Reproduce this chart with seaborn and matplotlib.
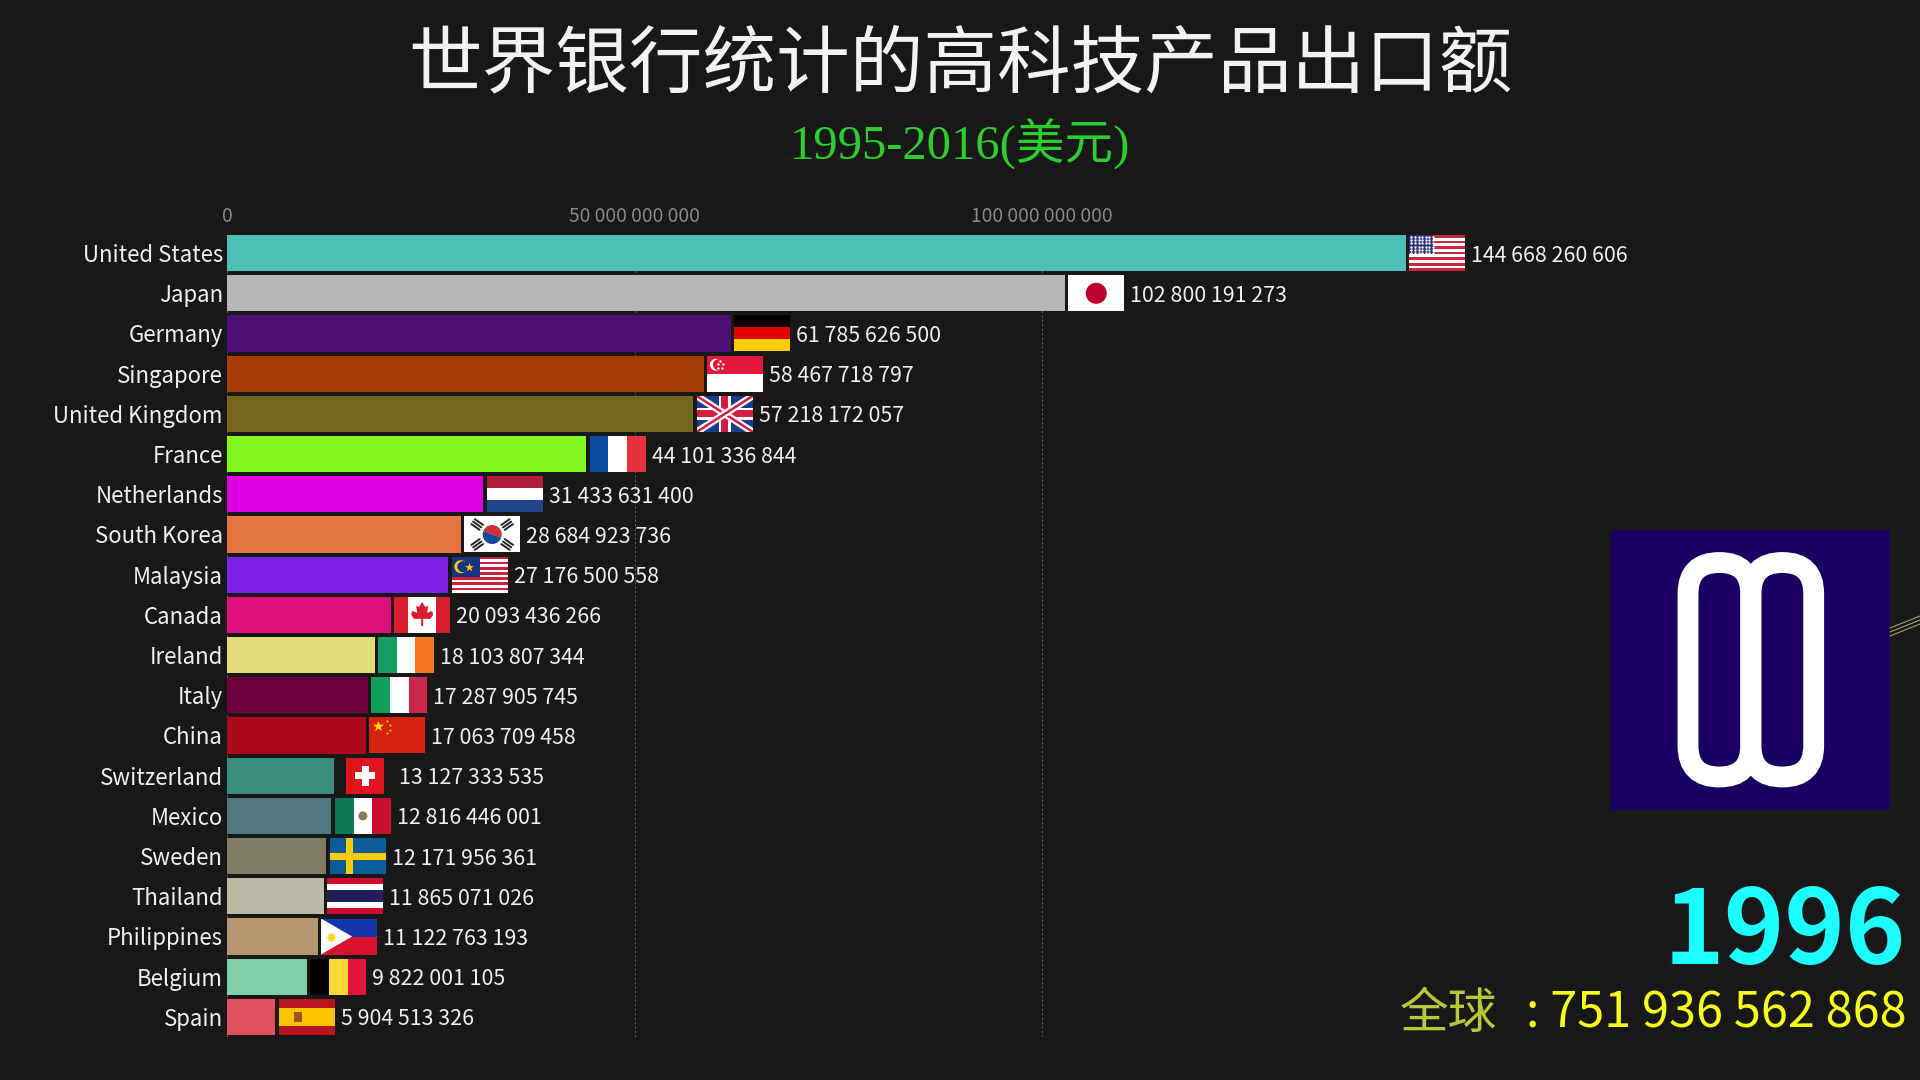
import numpy as np
import pandas as pd
import seaborn as sns
import matplotlib.pyplot as plt
from matplotlib.lines import Line2D
from matplotlib.patches import Circle, FancyBboxPatch, Polygon, Rectangle, Wedge

W, H = 1920, 1080
BG = '#181818'

countries = ['United States', 'Japan', 'Germany', 'Singapore', 'United Kingdom',
             'France', 'Netherlands', 'South Korea', 'Malaysia', 'Canada',
             'Ireland', 'Italy', 'China', 'Switzerland', 'Mexico',
             'Sweden', 'Thailand', 'Philippines', 'Belgium', 'Spain']
values = [144668260606, 102800191273, 61785626500, 58467718797, 57218172057,
          44101336844, 31433631400, 28684923736, 27176500558, 20093436266,
          18103807344, 17287905745, 17063709458, 13127333535, 12816446001,
          12171956361, 11865071026, 11122763193, 9822001105, 5904513326]
bar_colors = ['#4dc0b8', '#b8b6b8', '#4e0f73', '#a83c05', '#77661d',
              '#84f723', '#e000e4', '#e87645', '#7d23e8', '#dd107d',
              '#e0dc7a', '#6e003d', '#ac0a18', '#3b8c7c', '#50787c',
              '#7f7d64', '#babaa6', '#b5966e', '#82cfae', '#e0505f']
x_ticks = [0, 50000000000, 100000000000]
title = '世界银行统计的高科技产品出口额'
subtitle = '1995-2016(美元)'
year = '1996'
world_label = '全球'
world_total = 751936562868


def spaced(n):
    return f'{n:,}'.replace(',', ' ')


def bands(ax, colors, vertical=False):
    edges = np.linspace(0, 56 if vertical else 36, len(colors) + 1)
    for c, a, b in zip(colors, edges[:-1], edges[1:]):
        if vertical:
            ax.add_patch(Rectangle((a, 0), b - a, 36, color=c, lw=0))
        else:
            ax.add_patch(Rectangle((0, a), 56, b - a, color=c, lw=0))


def rect(ax, x, y, w, h, c):
    ax.add_patch(Rectangle((x, y), w, h, color=c, lw=0))


def flag_us(ax):
    bands(ax, ['#c8283c', '#ffffff'] * 6 + ['#c8283c'])
    rect(ax, 0, 0, 24, 19.4, '#2b2f78')
    for y in np.arange(2, 19, 3.2):
        ax.scatter(np.arange(2, 24, 3.6), [y] * 7, s=3, c='white', lw=0)


def flag_japan(ax):
    bands(ax, ['#ffffff'])
    ax.add_patch(Circle((28, 18), 10.5, color='#bc002d', lw=0))


def flag_singapore(ax):
    bands(ax, ['#e0183c', '#ffffff'])
    ax.add_patch(Circle((9, 9), 6, color='white', lw=0))
    ax.add_patch(Circle((11.5, 9), 5.5, color='#e0183c', lw=0))
    ax.scatter([13, 16, 15, 11, 11], [5, 8, 12, 12, 8], s=3, c='white', lw=0)


def flag_uk(ax):
    bands(ax, ['#1f3a8a'])
    for pts in ([(0, 0), (56, 36)], [(0, 36), (56, 0)]):
        ax.plot(*zip(*pts), color='white', lw=5, solid_capstyle='butt')
        ax.plot(*zip(*pts), color='#d02040', lw=1.8, solid_capstyle='butt')
    rect(ax, 22, 0, 12, 36, 'white')
    rect(ax, 0, 12, 56, 12, 'white')
    rect(ax, 24.5, 0, 7, 36, '#d02040')
    rect(ax, 0, 14.5, 56, 7, '#d02040')


def flag_korea(ax):
    bands(ax, ['#ffffff'])
    ax.add_patch(Wedge((28, 18), 9.5, 200, 20, color='#cd2e3a', lw=0))
    ax.add_patch(Wedge((28, 18), 9.5, 20, 200, color='#0f4c9a', lw=0))
    for (x, y), a in zip([(13, 8), (43, 8), (13, 28), (43, 28)], [-35, 35, 35, -35]):
        t = np.radians(a)
        for k in (-3, 0, 3):
            cx, cy = x + k * np.sin(t), y + k * np.cos(t)
            dx, dy = 5 * np.cos(t), -5 * np.sin(t)
            ax.plot([cx - dx, cx + dx], [cy - dy, cy + dy], color='#222222', lw=1.4)


def flag_malaysia(ax):
    bands(ax, ['#cc1f3c', '#ffffff'] * 7)
    rect(ax, 0, 0, 28, 20.5, '#15357f')
    ax.add_patch(Circle((9, 10), 6.5, color='#ffcc00', lw=0))
    ax.add_patch(Circle((11, 10), 5.5, color='#15357f', lw=0))
    ax.scatter([17], [10], s=45, marker='*', c='#ffcc00', lw=0)


def flag_canada(ax):
    bands(ax, ['#d81e2e', '#ffffff', '#ffffff', '#d81e2e'], vertical=True)
    leaf = [(28, 5), (31, 10), (34, 9), (33, 16), (38, 14), (39, 18), (36, 22),
            (29, 22), (29, 29), (27, 29), (27, 22), (20, 22), (17, 18),
            (18, 14), (23, 16), (22, 9), (25, 10)]
    ax.add_patch(Polygon(leaf, color='#d81e2e', lw=0))


def flag_china(ax):
    bands(ax, ['#d6220f'])
    ax.scatter([9], [9], s=70, marker='*', c='#ffde00', lw=0)
    ax.scatter([18, 21, 21, 18], [4, 8, 13, 16], s=6, marker='*', c='#ffde00', lw=0)


def flag_swiss(ax):
    rect(ax, 0, 0, 38, 36, '#e0141e')
    rect(ax, 15.5, 8, 7, 20, 'white')
    rect(ax, 9, 14.5, 20, 7, 'white')


def flag_mexico(ax):
    bands(ax, ['#0b7a54', '#ffffff', '#c8102e'], vertical=True)
    ax.add_patch(Circle((28, 18), 4.5, color='#8a7a62', lw=0))


def flag_sweden(ax):
    bands(ax, ['#0a5c9a'])
    rect(ax, 16, 0, 7, 36, '#fecc00')
    rect(ax, 0, 14.5, 56, 7, '#fecc00')


def flag_philippines(ax):
    bands(ax, ['#1438a8', '#d8122e'])
    ax.add_patch(Polygon([(0, 0), (31, 18), (0, 36)], color='white', lw=0))
    ax.scatter([10], [18], s=65, marker=(8, 1, 0), c='#fcd116', lw=0)


def flag_spain(ax):
    bands(ax, ['#b8141e', '#fcc400', '#fcc400', '#b8141e'])
    rect(ax, 15, 13, 8, 10, '#a0521e')


flags = {
    'United States': flag_us,
    'Japan': flag_japan,
    'Germany': lambda ax: bands(ax, ['#000000', '#e00000', '#ffce00']),
    'Singapore': flag_singapore,
    'United Kingdom': flag_uk,
    'France': lambda ax: bands(ax, ['#0a4ea0', '#ffffff', '#e8303f'], vertical=True),
    'Netherlands': lambda ax: bands(ax, ['#ae1c3a', '#ffffff', '#21468b']),
    'South Korea': flag_korea,
    'Malaysia': flag_malaysia,
    'Canada': flag_canada,
    'Ireland': lambda ax: bands(ax, ['#169b62', '#ffffff', '#f4791f'], vertical=True),
    'Italy': lambda ax: bands(ax, ['#0f9d58', '#ffffff', '#c8284a'], vertical=True),
    'China': flag_china,
    'Switzerland': flag_swiss,
    'Mexico': flag_mexico,
    'Sweden': flag_sweden,
    'Thailand': lambda ax: bands(ax, ['#c8102e', '#ffffff', '#241d5e', '#241d5e', '#ffffff', '#c8102e']),
    'Philippines': flag_philippines,
    'Belgium': lambda ax: bands(ax, ['#000000', '#fad936', '#e0143c'], vertical=True),
    'Spain': flag_spain,
}

sns.set_style('dark')
plt.rcParams['font.family'] = ['Noto Sans CJK SC', 'DejaVu Sans']
plt.rcParams['axes.unicode_minus'] = False

fig = plt.figure(figsize=(19.2, 10.8), dpi=100, facecolor=BG)

# 坐标区：左 227，上 233，下 1037（像素）
ax_right = 1700
ax = fig.add_axes([227 / W, 1 - 1037 / H, (ax_right - 227) / W, 804 / H], facecolor=BG)
df = pd.DataFrame({'country': countries, 'value': values})
sns.barplot(data=df, x='value', y='country', hue='country', palette=bar_colors,
            order=countries, hue_order=countries, legend=False, width=0.9,
            saturation=1, linewidth=0, ax=ax, zorder=3)
ax.set_xlim(0, (ax_right - 227) / 407.5 * 50e9)
ax.set_ylim(19.5, -0.5)
ax.set_xlabel('')
ax.set_ylabel('')
ax.xaxis.tick_top()
ax.set_xticks(x_ticks)
ax.set_xticklabels([spaced(t) for t in x_ticks], fontsize=13.8, color='#8c8c8c')
ax.tick_params(axis='x', length=0, pad=4)
ax.tick_params(axis='y', length=0, pad=3, labelsize=16, labelcolor='#f0f0f0')
ax.grid(axis='x', color='#5a5a5a', lw=0.8, ls=(0, (2, 2)), zorder=0)
ax.grid(axis='y', visible=False)
sns.despine(ax=ax, left=True, bottom=True, top=True, right=True)

for i, (name, v) in enumerate(zip(countries, values)):
    ax.annotate(spaced(v), (v, i), xytext=(47.1, 0), textcoords='offset points',
                va='center_baseline', ha='left', fontsize=15.4, color='#f0f0f0')
    # 旗帜放在柱子末端后面
    px, py = ax.transData.transform((v, i))
    fw = 38 if name == 'Switzerland' else 56
    left = px + 3.4 + (56 - fw) / 2
    fa = fig.add_axes([left / W, (py - 18) / H, fw / W, 36 / H])
    fa.set_xlim(0, fw)
    fa.set_ylim(36, 0)
    fa.set_axis_off()
    flags[name](fa)

# 全图覆盖层，用像素坐标
over = fig.add_axes([0, 0, 1, 1], facecolor='none')
over.set_xlim(0, W)
over.set_ylim(H, 0)
over.set_axis_off()

over.text(960, 66, title, fontsize=53, color='#f2f2f2', ha='center', va='center',
          fontweight='light')
over.text(960, 143, subtitle, fontsize=35, color='#2ecc2e', ha='center', va='center',
          family=['Liberation Serif', 'Noto Sans CJK SC'])

# 右侧标志
over.add_patch(Rectangle((1611, 530), 279, 280, color='#1a0060', lw=0))
for x0 in (1688, 1751):
    over.add_patch(FancyBboxPatch((x0, 562.5), 62.7, 214.5,
                                  boxstyle='round,pad=0,rounding_size=31.3',
                                  fc='none', ec='white', lw=15))
for dy in (0, 4, 8):
    over.add_line(Line2D([1890, 1920], [628 + dy, 616 + dy], color='#a8a070', lw=0.8))

over.text(1906, 964, year, fontsize=74, color='#1dffff', ha='right', va='baseline',
          fontweight='bold')
over.text(1907, 1028, ': ' + spaced(world_total), fontsize=35, color='#f5ff1e',
          ha='right', va='baseline')
over.text(1497, 1028, world_label, fontsize=35, color='#b8c83a', ha='right', va='baseline',
          fontweight='light')

fig.savefig('out.png', dpi=100, facecolor=BG)
plt.close(fig)
